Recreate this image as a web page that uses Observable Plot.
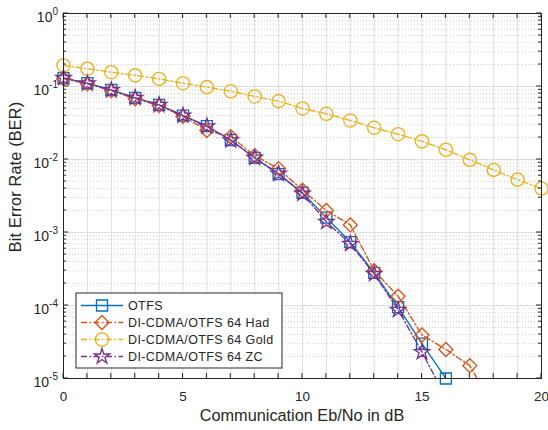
<!DOCTYPE html>
<html><head><meta charset="utf-8">
<script src="https://cdn.jsdelivr.net/npm/d3@7"></script>
<script src="https://cdn.jsdelivr.net/npm/@observablehq/plot@0.6"></script>
<style>
body{margin:0;background:#fff;}
#wrap{position:relative;width:548px;height:430px;}
</style></head><body><div id="wrap"></div>
<script>
// ---- data ----
const snr = [0,1,2,3,4,5,6,7,8,9,10,11,12,13,14,15,16,17,18,19,20];
const berOTFS = [0.13,0.111,0.090,0.070,0.056,0.040,0.0286,0.0185,0.0105,0.0063,0.0035,0.0016,0.00074,0.00028,9.5e-5,3.0e-5,1.0e-5];
const berHad  = [0.128,0.109,0.088,0.068,0.055,0.039,0.025,0.0205,0.0113,0.0075,0.0038,0.0020,0.00127,0.00030,1.34e-4,3.95e-5,2.5e-5,1.5e-5,4e-6];
const berGold = [0.194,0.175,0.157,0.142,0.127,0.111,0.098,0.086,0.073,0.063,0.050,0.0423,0.0342,0.0272,0.0222,0.0177,0.0136,0.0099,0.0072,0.0053,0.0040];
const berZC   = [0.131,0.110,0.089,0.070,0.056,0.040,0.0285,0.0183,0.0106,0.0064,0.0034,0.0014,0.00070,0.00027,8.7e-5,2.3e-5,5.5e-6];
const seriesNames = ["OTFS","DI-CDMA/OTFS 64 Had","DI-CDMA/OTFS 64 Gold","DI-CDMA/OTFS 64 ZC"];
const xTickValues = [0,5,10,15,20];
const yDecades = [1e-5,1e-4,1e-3,1e-2,1e-1,1];
const xLabel = "Communication Eb/No in dB";
const yLabel = "Bit Error Rate (BER)";

// ---- styles ----
const colors = ["#0072BD","#D95319","#EDB120","#7E2F8E"];
const symbols = ["square","diamond2","circle","star"];
const symD3 = [d3.symbolSquare,d3.symbolDiamond2,d3.symbolCircle,d3.symbolStar];
const radii = [6.2,6.3,6.6,4.8];
const DASHDOT = "6,2.5,1.5,2.5";
const dashes = [null,DASHDOT,DASHDOT,DASHDOT];
const FONT = "'Liberation Sans', Arial, Helvetica, sans-serif";
const AX = "#262626";
const LW = 1.35;

const allVals = [berOTFS,berHad,berGold,berZC];
const rows = vals => vals.map((v,i)=>({x:snr[i], y:v}));
const yMinor = [];
for (const d of yDecades.slice(0,-1)) for (let k=2;k<=9;k++) yMinor.push(d*k);

const marks = [
  Plot.ruleX(snr, {stroke:"#dedede", strokeWidth:1}),
  Plot.ruleY(yMinor, {stroke:"#c8c8c8", strokeWidth:0.8, strokeDasharray:"1,2"}),
  Plot.ruleY(yDecades, {stroke:"#dedede", strokeWidth:1})
];
allVals.forEach((vals,i)=>{
  const data = rows(vals);
  marks.push(Plot.line(data, {x:"x", y:"y", stroke:colors[i], strokeWidth:LW, strokeDasharray:dashes[i], clip:true}));
  marks.push(Plot.dot(data.filter(d=>d.y>=1e-5), {x:"x", y:"y", symbol:symbols[i], r:radii[i], stroke:colors[i], fill:"none", strokeWidth:LW}));
});
marks.push(Plot.frame({stroke:AX, strokeWidth:1}));

const chart = Plot.plot({
  width:548, height:430,
  marginLeft:63, marginRight:7, marginTop:13, marginBottom:52,
  style:{fontSize:"13.5px", fontFamily:FONT, color:AX, background:"white"},
  x:{domain:[0,20], ticks:xTickValues, tickSize:0, tickPadding:13, label:null},
  y:{type:"log", domain:[1e-5,1], axis:null},
  marks
});
document.getElementById("wrap").appendChild(chart);

// ---- decorations via the plot's scales ----
const xs = chart.scale("x"), ys = chart.scale("y");
const [x0,x1] = xs.range; const [yb,yt] = ys.range;
const svg = d3.select(chart);
const tg = svg.append("g").attr("stroke",AX).attr("stroke-width",1).attr("fill","none");
for (const v of snr) {
  const px = xs.apply(v);
  tg.append("line").attr("x1",px).attr("x2",px).attr("y1",yb).attr("y2",yb-5);
  tg.append("line").attr("x1",px).attr("x2",px).attr("y1",yt).attr("y2",yt+5);
}
for (const v of yDecades) {
  const py = ys.apply(v);
  tg.append("line").attr("x1",x0).attr("x2",x0+5).attr("y1",py).attr("y2",py);
  tg.append("line").attr("x1",x1).attr("x2",x1-5).attr("y1",py).attr("y2",py);
}
for (const v of yMinor) {
  const py = ys.apply(v);
  tg.append("line").attr("x1",x0).attr("x2",x0+3).attr("y1",py).attr("y2",py);
  tg.append("line").attr("x1",x1).attr("x2",x1-3).attr("y1",py).attr("y2",py);
}
// y tick labels 10^n
const lg = svg.append("g").attr("fill",AX).attr("font-family",FONT);
for (const v of yDecades) {
  const py = ys.apply(v);
  const t = lg.append("text").attr("x",x0-5).attr("y",py+9).attr("text-anchor","end").attr("font-size","14px");
  t.append("tspan").text("10");
  t.append("tspan").attr("dy",-7).attr("font-size","10px").text(String(Math.round(Math.log10(v))));
}
// axis labels
lg.append("text").attr("x",(x0+x1)/2).attr("y",421).attr("text-anchor","middle")
  .attr("font-size","16.3px").text(xLabel);
lg.append("text").attr("transform",`translate(21,177) rotate(-90)`).attr("text-anchor","middle")
  .attr("font-size","16.3px").attr("letter-spacing","0.15px").text(yLabel);

// legend
const leg = svg.append("g").attr("font-family",FONT);
leg.append("rect").attr("x",76).attr("y",293).attr("width",206).attr("height",75)
  .attr("fill","white").attr("stroke",AX).attr("stroke-width",1);
seriesNames.forEach((name,i)=>{
  const cy = 305.5 + 17*i;
  leg.append("line").attr("x1",81).attr("x2",123).attr("y1",cy).attr("y2",cy)
    .attr("stroke",colors[i]).attr("stroke-width",LW).attr("stroke-dasharray",dashes[i]);
  leg.append("path").attr("d",d3.symbol(symD3[i], Math.PI*radii[i]*radii[i])())
    .attr("transform",`translate(102,${cy})`).attr("fill","none").attr("stroke",colors[i]).attr("stroke-width",LW);
  leg.append("text").attr("x",128).attr("y",cy+4.5).attr("text-anchor","start").attr("font-size","12.5px").attr("letter-spacing","0.4px")
    .attr("fill",AX).text(name);
});
</script>
</body></html>
